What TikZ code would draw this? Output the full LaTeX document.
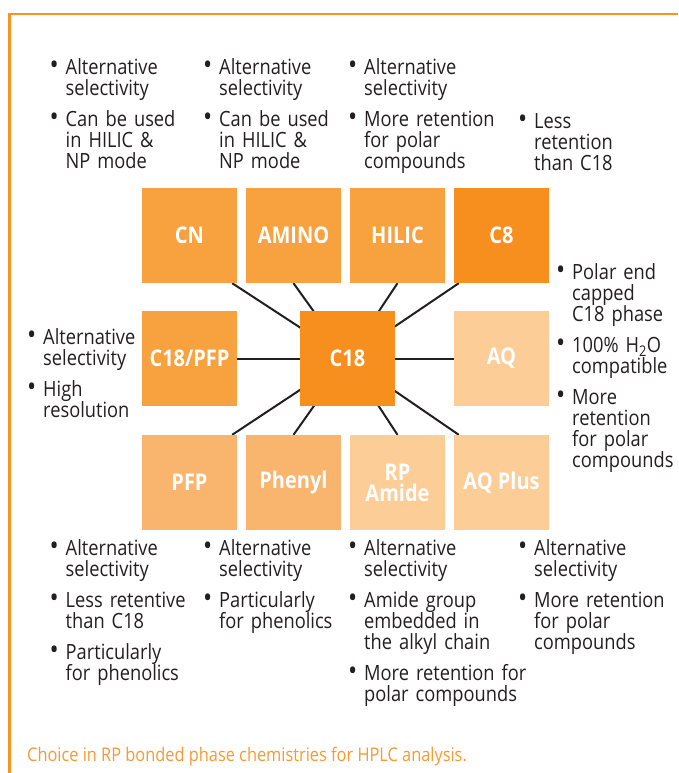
\documentclass[tikz,border=0pt]{standalone}
\usepackage{fontspec}
\setmainfont{Open Sans}[FakeStretch=0.87]
\usetikzlibrary{backgrounds}

\definecolor{frameorange}{HTML}{F7931E}
\definecolor{captionorange}{HTML}{F79A32}
\definecolor{phasedark}{HTML}{F68F1E}
\definecolor{phasemid}{HTML}{F8A13F}
\definecolor{phaselight}{HTML}{F9B46E}
\definecolor{phasepale}{HTML}{FDCD98}
\definecolor{inktext}{HTML}{231F20}

\newcommand{\notesize}{\fontsize{21}{21}\selectfont\lineskiplimit=-100pt}
\newcommand{\bitem}[1]{\par\noindent\hangindent=14pt\hangafter=1%
  \rule{0pt}{17pt}\makebox[14pt][l]{\hspace{-2pt}{\fontsize{28}{21}\selectfont\textbullet}}#1\par}
\newcommand{\bgap}{\vskip 10pt}

\begin{document}
\begin{tikzpicture}[x=1pt, y=-1pt]
  \tikzstyle{phase}=[minimum size=95pt, inner sep=0pt, text=white,
    font=\fontsize{23}{21}\selectfont\bfseries, align=center]
  \tikzstyle{notes}=[anchor=north west, inner sep=0pt, text width=190pt,
    align=left, text=inktext, font=\notesize]
  \tikzstyle{link}=[line width=2pt, inktext]
  \useasboundingbox (0,0) rectangle (678,773);

  % frame
  \draw[frameorange, line width=2.5pt] (9.5,773) -- (9.5,14) -- (678,14);

  % phases
  \node[phase, fill=phasemid]  (cn)      at (189.5,235.5) {CN};
  \node[phase, fill=phasemid]  (amino)   at (293.5,235.5) {AMINO};
  \node[phase, fill=phasemid]  (hilic)   at (397.5,235.5) {HILIC};
  \node[phase, fill=phasedark] (c8)      at (501.5,235.5) {C8};
  \node[phase, fill=phasemid]  (c18pfp)  at (189.5,358.5) {C18/PFP};
  \node[phase, fill=phasedark] (c18)     at (347.5,358.5) {C18};
  \node[phase, fill=phasepale] (aq)      at (501.5,358.5) {AQ};
  \node[phase, fill=phaselight] (pfp)    at (189.5,482.5) {PFP};
  \node[phase, fill=phaselight] (phenyl) at (293.5,482.5) {Phenyl};
  \node[phase, fill=phasepale] (rpamide) at (397.5,482.5) {RP\\Amide};
  \node[phase, fill=phasepale] (aqplus)  at (501.5,482.5) {AQ Plus};

  % links to C18
  \begin{scope}[on background layer]
    \draw[link] (c18.center) -- ([xshift=-5pt]cn.south east);
    \draw[link] (c18.center) -- (amino.south);
    \draw[link] (c18.center) -- (hilic.south);
    \draw[link] (c18.center) -- ([xshift=5pt]c8.south west);
    \draw[link] (c18.center) -- (c18pfp.east);
    \draw[link] (c18.center) -- (aq.west);
    \draw[link] (c18.center) -- ([xshift=-5pt]pfp.north east);
    \draw[link] (c18.center) -- (phenyl.north);
    \draw[link] (c18.center) -- (rpamide.north);
    \draw[link] (c18.center) -- ([xshift=5pt]aqplus.north west);
  \end{scope}

  % notes above
  \node[notes] (cnnotes) at (51.5,53.5) {\bitem{Alternative\newline selectivity}\bgap
    \bitem{Can be used\newline in HILIC \&\newline NP mode}};
  \node[notes] (aminonotes) at (205,53.5) {\bitem{Alternative\newline selectivity}\bgap
    \bitem{Can be used\newline in HILIC \&\newline NP mode}};
  \node[notes] (hilicnotes) at (350,53.5) {\bitem{Alternative\newline selectivity}\bgap
    \bitem{More retention\newline for polar\newline compounds}};
  \node[notes] (c8notes) at (520,107.5) {\bitem{Less\newline retention\newline than C18}};

  % notes at the sides
  \node[notes] (c18pfpnotes) at (29,323.5) {\bitem{Alternative\newline selectivity}\bgap
    \bitem{High\newline resolution}};
  \node[notes] (aqnotes) at (558,258.5) {\bitem{Polar end\newline capped\newline C18 phase}\bgap
    \bitem{100\% H\textsubscript{2}O\newline compatible}\bgap
    \bitem{More\newline retention\newline for polar\newline compounds}};

  % notes below
  \node[notes] (pfpnotes) at (51.5,534.5) {\bitem{Alternative\newline selectivity}\bgap
    \bitem{Less retentive\newline than C18}\bgap
    \bitem{Particularly\newline for phenolics}};
  \node[notes] (phenylnotes) at (205,534.5) {\bitem{Alternative\newline selectivity}\bgap
    \bitem{Particularly\newline for phenolics}};
  \node[notes] (rpamidenotes) at (350,534.5) {\bitem{Alternative\newline selectivity}\bgap
    \bitem{Amide group\newline embedded in\newline the alkyl chain}\bgap
    \bitem{More retention for\newline polar compounds}};
  \node[notes] (aqplusnotes) at (520,534.5) {\bitem{Alternative\newline selectivity}\bgap
    \bitem{More retention\newline for polar\newline compounds}};

  % caption
  \node[anchor=base west, inner sep=0pt, text=captionorange,
    font=\fontsize{18.8}{19}\selectfont] (caption) at (27,761)
    {Choice in RP bonded phase chemistries for HPLC analysis.};
\end{tikzpicture}
\end{document}
